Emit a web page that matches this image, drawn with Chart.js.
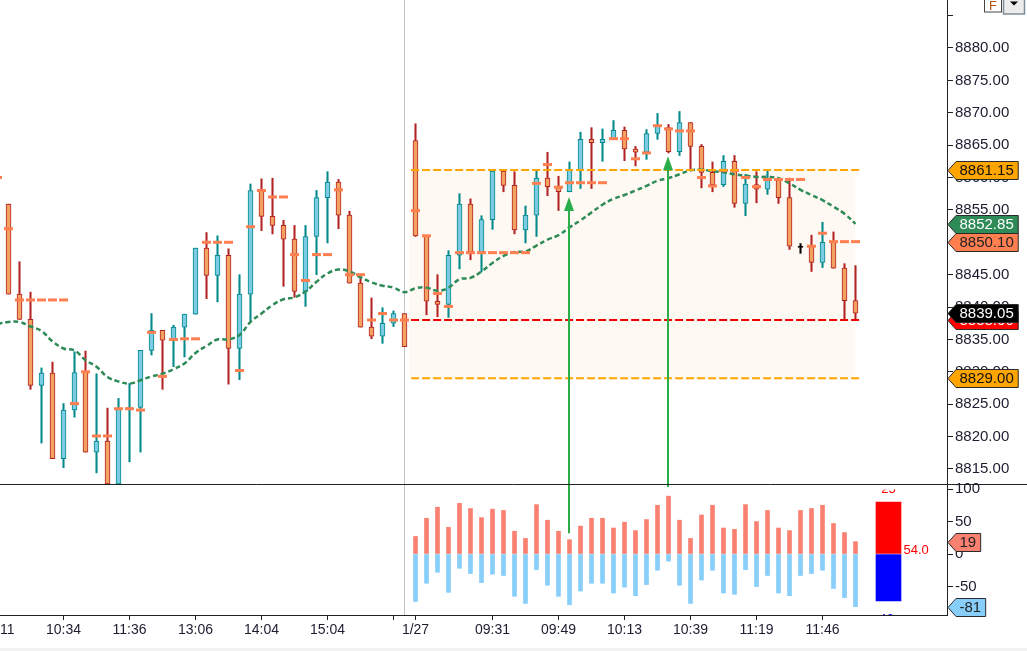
<!DOCTYPE html>
<html><head><meta charset="utf-8">
<script src="https://cdn.jsdelivr.net/npm/chart.js@4/dist/chart.umd.min.js"></script>
<style>html,body{margin:0;padding:0;background:#fff;overflow:hidden}canvas{display:block}</style>
</head><body>
<canvas id="c" width="1027" height="651"></canvas>
<script>
// ---------- data (bar index 0 = first fully visible candle) ----------
const barOpen = [
8855.9, 8842.0, 8838.1, 8827.9, 8829.8, 8816.6, 8824.1, 8830.0, 8817.6, 8819.3,
8812.7, 8824.3, 8824.5, 8833.3, 8836.4, 8835.0, 8836.9, 8838.9, 8849.1, 8844.9,
8848.0, 8833.6, 8842.0, 8858.0, 8854.0, 8852.6, 8850.5, 8842.4, 8850.9, 8856.9,
8859.3, 8854.2, 8843.7, 8836.9, 8835.5, 8837.5, 8839.0, 8865.7, 8851.0, 8840.9,
8840.4, 8848.0, 8855.9, 8848.5, 8853.5, 8861.0, 8858.8, 8851.9, 8854.2, 8859.9,
8858.6, 8857.8, 8861.2, 8865.9, 8865.4, 8866.0, 8867.3, 8864.4, 8863.9, 8866.8,
8867.7, 8864.0, 8868.5, 8864.8, 8860.8, 8858.9, 8862.5, 8856.0, 8858.9, 8858.2,
8859.6, 8856.9, 8849.3, 8849.4, 8846.9, 8850.1, 8846.0, 8841.0];
const barHigh = [
8855.9, 8847.0, 8842.3, 8830.6, 8831.5, 8825.1, 8833.1, 8833.2, 8829.7, 8824.4,
8825.9, 8828.2, 8833.3, 8839.0, 8836.4, 8837.2, 8838.9, 8849.1, 8851.5, 8851.0,
8849.0, 8845.0, 8859.0, 8859.8, 8859.9, 8853.4, 8852.6, 8852.6, 8858.0, 8860.9,
8859.7, 8854.8, 8845.0, 8841.4, 8839.9, 8839.4, 8839.0, 8868.3, 8851.0, 8845.0,
8848.7, 8857.5, 8856.7, 8854.1, 8861.0, 8861.0, 8860.9, 8855.6, 8861.0, 8863.9,
8860.2, 8862.4, 8867.0, 8867.7, 8867.5, 8868.8, 8867.8, 8864.8, 8867.4, 8869.9,
8868.2, 8870.2, 8868.5, 8865.1, 8862.4, 8863.4, 8863.4, 8860.5, 8860.9, 8861.0,
8859.6, 8859.9, 8849.8, 8851.1, 8853.1, 8851.6, 8846.7, 8846.4];
const barLow = [
8842.0, 8838.1, 8827.3, 8819.0, 8816.6, 8815.2, 8823.0, 8817.6, 8814.4, 8812.7,
8812.7, 8816.1, 8817.6, 8832.6, 8827.3, 8830.8, 8832.3, 8838.9, 8841.3, 8840.8,
8828.1, 8828.8, 8837.9, 8851.8, 8851.3, 8843.2, 8841.5, 8840.1, 8845.0, 8849.9,
8852.1, 8843.7, 8836.9, 8835.1, 8834.4, 8837.0, 8833.9, 8850.9, 8838.8, 8838.5,
8838.4, 8845.9, 8847.3, 8845.4, 8852.0, 8857.8, 8851.3, 8849.9, 8850.9, 8857.2,
8854.9, 8857.8, 8858.3, 8858.3, 8862.5, 8866.0, 8862.6, 8861.8, 8862.8, 8865.9,
8863.8, 8863.4, 8861.2, 8858.4, 8857.8, 8858.6, 8855.4, 8854.1, 8856.1, 8857.4,
8856.0, 8848.9, 8848.3, 8845.5, 8846.1, 8846.0, 8838.0, 8838.0];
const barClose = [
8842.0, 8838.1, 8827.9, 8829.8, 8816.6, 8824.1, 8829.9, 8817.6, 8819.3, 8812.7,
8824.4, 8824.5, 8833.3, 8836.4, 8834.9, 8836.9, 8838.9, 8849.1, 8844.9, 8848.0,
8833.6, 8842.0, 8858.0, 8854.0, 8852.6, 8850.5, 8842.4, 8850.9, 8856.9, 8859.3,
8854.2, 8843.7, 8836.9, 8835.5, 8837.5, 8839.0, 8833.9, 8851.0, 8840.9, 8840.4,
8848.0, 8855.9, 8848.5, 8853.5, 8861.0, 8858.8, 8851.9, 8854.2, 8859.9, 8858.6,
8857.8, 8861.2, 8865.9, 8865.4, 8865.9, 8867.3, 8864.4, 8863.9, 8866.8, 8867.9,
8864.0, 8868.5, 8864.8, 8860.8, 8858.9, 8862.5, 8856.0, 8859.0, 8858.2, 8859.6,
8856.9, 8849.4, 8849.3, 8846.9, 8850.0, 8846.0, 8841.0, 8839.05];

// short marker dashes, first entry belongs to bar -1 (partly off-screen)
const dashStart = -1;
const dashLevel = [
8860.0, 8852.1, 8841.1, 8841.1, 8841.1, 8841.1, 8841.1, 8825.1, 8830.0, 8820.1,
8820.1, 8824.3, 8824.3, 8824.1, 8836.1, 8829.3, 8835.0, 8835.1, 8835.1, 8850.0,
8850.0, 8850.0, 8830.2, 8852.4, 8858.0, 8857.0, 8857.0, 8848.1, 8844.1, 8848.1,
8848.1, 8858.1, 8845.0, 8845.0, 8838.0, 8839.0, 8838.0, 8838.0, 8854.9, 8851.0,
8842.1, 8840.1, 8848.4, 8848.4, 8848.4, 8848.4, 8848.4, 8848.4, 8848.4, 8859.1,
8862.0, 8858.5, 8859.2, 8859.2, 8859.2, 8859.2, 8866.0, 8866.0, 8862.9, 8863.8,
8868.0, 8867.5, 8867.2, 8867.2, 8860.0, 8858.7, 8861.1, 8861.1, 8860.0, 8858.6,
8859.7, 8859.7, 8859.7, 8859.7, 8849.4, 8851.4, 8850.1, 8850.1, 8850.1];

// moving average, first entry belongs to bar -1
const maStart = -1;
const maValue = [
8837.4, 8837.7, 8837.7, 8837.0, 8836.3, 8834.7, 8833.6, 8833.3, 8831.8, 8830.8,
8829.2, 8828.5, 8828.2, 8828.7, 8829.3, 8829.7, 8830.4, 8831.3, 8832.9, 8834.0,
8835.0, 8835.0, 8835.7, 8837.7, 8839.0, 8840.3, 8841.2, 8841.5, 8842.4, 8843.9,
8845.2, 8845.8, 8845.5, 8844.6, 8843.8, 8843.3, 8843.0, 8842.3, 8842.9, 8843.0,
8842.5, 8843.0, 8844.3, 8844.5, 8845.5, 8846.8, 8847.9, 8848.5, 8848.6, 8849.5,
8850.4, 8851.1, 8852.3, 8853.4, 8854.6, 8855.8, 8856.7, 8857.3, 8858.0, 8858.7,
8859.5, 8859.9, 8860.5, 8861.1, 8861.2, 8861.0, 8860.8, 8860.5, 8860.3, 8860.1,
8860.1, 8859.9, 8859.1, 8858.1, 8857.3, 8856.5, 8855.5, 8854.4, 8852.85];

// lower panel oscillator (today's session only)
const indStart = 37;
const indUp = [27,55,72,41,78,70,56,69,67,35,24,76,52,35,22,43,55,55,40,49,36,53,75,89,52,24,60,75,40,38,76,50,67,40,36,67,70,75,47,33,19];
const indDown = [-73,-45,-28,-59,-22,-30,-44,-31,-33,-65,-76,-24,-48,-65,-78,-57,-45,-45,-60,-51,-64,-47,-25,-11,-48,-76,-40,-25,-60,-62,-24,-50,-33,-60,-64,-33,-30,-25,-53,-67,-81];
const sumBar = 80, sumUp = 80, sumDown = -72;
const sumText = '54.0', sumUpText = '25', sumDownText = '46';

// levels
const upperBand = 8861.15, lowerBand = 8829.00, refLevel = 8838.00;
const lastPrice = 8839.05, maLast = 8852.85, dashLast = 8850.10;
const indLastUp = 19, indLastDown = -81;
const levelFrom = 36.6, levelTo = 77.4, zoneFrom = 36.4, zoneTo = 77.0;
const sessionBar = 36;
const arrowBars = [51, 60];
const arrowTop = [8857.0, 8863.3];
const arrowBottom = [32, 103];

// axes
const xTickBars = [-1, 5, 11, 17, 23, 29, 35, 37, 44, 50, 56, 62, 68, 74];
const xTickLabels = ['10:11', '10:34', '11:36', '13:06', '14:04', '15:04', '', '1/27', '09:31', '09:49', '10:13', '10:39', '11:19', '11:46'];
const priceTicks = [8815, 8820, 8825, 8830, 8835, 8840, 8845, 8850, 8855, 8860, 8865, 8870, 8875, 8880, 8885];
const priceLabelMax = 8880;
const indTicks = [-50, 0, 50, 100];

// ---------- styles ----------
const UP_FILL = '#7DCBE2', UP_EDGE = '#00898B';
const DN_FILL = '#F4A261', DN_EDGE = '#B22222';
const FONT = '"Liberation Sans", Arial, sans-serif';
const TXT = '#1c1c30';

const idx = barOpen.map((_, i) => i);
const dir = idx.map(i => barClose[i] > barOpen[i] ? 1 : (barClose[i] < barOpen[i] ? -1 : 0));
const bodyFill = dir.map(d => d > 0 ? UP_FILL : (d < 0 ? DN_FILL : '#000'));
const edgeCol = dir.map(d => d > 0 ? UP_EDGE : (d < 0 ? DN_EDGE : '#000'));

function tag(ctx, x, y, text, bg, fg) {
  ctx.font = '15px ' + FONT;
  const w = ctx.measureText(text).width + 8, h = 18, a = 8;
  y = Math.round(y) + 0.5;
  ctx.beginPath();
  ctx.moveTo(x, y);
  ctx.lineTo(x + a, y - h / 2);
  ctx.lineTo(x + a + w, y - h / 2);
  ctx.lineTo(x + a + w, y + h / 2);
  ctx.lineTo(x + a, y + h / 2);
  ctx.closePath();
  ctx.fillStyle = bg; ctx.fill();
  ctx.strokeStyle = '#2a2a2a'; ctx.lineWidth = 1; ctx.stroke();
  ctx.fillStyle = fg; ctx.textBaseline = 'middle'; ctx.textAlign = 'left';
  ctx.fillText(text, x + a + 3.5, y + 0.5);
}

const overlay = {
  id: 'overlay',
  beforeDatasetsDraw(chart) {
    const {ctx, scales: {x, y, y2}} = chart;
    const sx = x.getPixelForValue(sessionBar);
    ctx.save();
    ctx.strokeStyle = '#C2C2C2'; ctx.lineWidth = 1;
    ctx.beginPath(); ctx.moveTo(sx, y.top); ctx.lineTo(sx, y2.bottom); ctx.stroke();
    ctx.restore();
  },
  afterDatasetsDraw(chart) {
    const {ctx, scales: {x, y, y2}} = chart;
    ctx.save();
    arrowBars.forEach((b, k) => {
      const ax = x.getPixelForValue(b) - 0.5;
      const tip = y.getPixelForValue(arrowTop[k]);
      const end = y2.getPixelForValue(arrowBottom[k]);
      ctx.strokeStyle = '#2BAE4A'; ctx.fillStyle = '#2BAE4A'; ctx.lineWidth = 2;
      ctx.beginPath(); ctx.moveTo(ax, tip + 10); ctx.lineTo(ax, end); ctx.stroke();
      ctx.beginPath(); ctx.moveTo(ax, tip); ctx.lineTo(ax - 5, tip + 14); ctx.lineTo(ax + 5, tip + 14); ctx.closePath(); ctx.fill();
    });
    // summary box texts (clipped to the inner lower panel)
    ctx.save();
    ctx.beginPath(); ctx.rect(chart.chartArea.left, y2.top + 5.5, chart.chartArea.right - chart.chartArea.left, y2.bottom - y2.top - 5.5); ctx.clip();
    const bx = x.getPixelForValue(sumBar);
    ctx.font = '13px ' + FONT; ctx.textBaseline = 'middle';
    ctx.fillStyle = '#FF0000'; ctx.textAlign = 'left';
    ctx.fillText(sumText, bx + 15, y2.getPixelForValue(5.7));
    ctx.textAlign = 'center';
    ctx.fillText(sumUpText, bx, y2.getPixelForValue(99));
    ctx.fillStyle = '#0000FF';
    ctx.fillText(sumDownText, bx - 2, y2.getPixelForValue(-100.5));
    ctx.restore();
    ctx.restore();
  },
  afterDraw(chart) {
    const {ctx, scales: {y, y2}} = chart;
    ctx.save();
    // panel separator across full width
    ctx.strokeStyle = '#222'; ctx.lineWidth = 1;
    const sy = Math.floor(y.bottom) + 0.5;
    ctx.beginPath(); ctx.moveTo(0, sy); ctx.lineTo(chart.width, sy); ctx.stroke();
    const tx = y.left + 1;
    tag(ctx, tx, y.getPixelForValue(upperBand), upperBand.toFixed(2), '#FFA500', '#111');
    tag(ctx, tx, y.getPixelForValue(maLast), maLast.toFixed(2), '#2E8B57', '#fff');
    tag(ctx, tx, y.getPixelForValue(dashLast), dashLast.toFixed(2), '#FF7F50', '#222');
    tag(ctx, tx, y.getPixelForValue(refLevel), refLevel.toFixed(2), '#FF0000', '#fff');
    tag(ctx, tx, y.getPixelForValue(lastPrice), lastPrice.toFixed(2), '#000000', '#fff');
    tag(ctx, tx, y.getPixelForValue(lowerBand), lowerBand.toFixed(2), '#FFA500', '#111');
    tag(ctx, tx, y2.getPixelForValue(indLastUp), String(indLastUp), '#FA8072', '#222');
    tag(ctx, tx, y2.getPixelForValue(indLastDown), String(indLastDown), '#87CEFA', '#222');
    // top-right widgets
    ctx.fillStyle = '#fff'; ctx.fillRect(984.5, -1, 17, 13);
    ctx.strokeStyle = '#444'; ctx.lineWidth = 1; ctx.strokeRect(984.5, -1, 17, 13);
    ctx.fillStyle = '#B0561A'; ctx.font = '13px ' + FONT; ctx.textAlign = 'center'; ctx.textBaseline = 'alphabetic';
    ctx.fillText('F', 993, 10);
    ctx.fillStyle = '#ECECEC'; ctx.fillRect(1003.5, -1, 21, 15);
    ctx.strokeStyle = '#7F8C99'; ctx.lineWidth = 1.5; ctx.strokeRect(1003.5, -1, 21, 15);
    ctx.fillStyle = '#000';
    ctx.beginPath(); ctx.moveTo(1010, 1.5); ctx.lineTo(1018, 1.5); ctx.lineTo(1014, 5.5); ctx.closePath(); ctx.fill();
    ctx.fillStyle = '#F2F2F2'; ctx.fillRect(0, 648, chart.width, 3);
    ctx.restore();
  }
};

const datasets = [
  { type: 'line', yAxisID: 'y', order: 30,
    data: [{x: zoneFrom, y: upperBand}, {x: zoneTo, y: upperBand}],
    borderWidth: 0, pointRadius: 0, fill: {value: lowerBand}, backgroundColor: 'rgba(255,170,80,0.07)' },
  { type: 'bar', yAxisID: 'y', order: 6, grouped: false,
    data: idx.map(i => ({x: i, y: [barLow[i], barHigh[i]]})),
    backgroundColor: edgeCol, barThickness: 1.4, borderWidth: 0 },
  { type: 'bar', yAxisID: 'y', order: 5, grouped: false,
    data: idx.map(i => ({x: i, y: dir[i] === 0 ? [barOpen[i] - 0.08, barOpen[i] + 0.08] : [barOpen[i], barClose[i]]})),
    backgroundColor: bodyFill, borderColor: edgeCol, borderWidth: 1, borderSkipped: false, barThickness: 5 },
  { type: 'line', yAxisID: 'y', order: 3,
    data: maValue.map((v, k) => ({x: maStart + k, y: v})),
    borderColor: '#2E8B57', borderWidth: 2.5, borderDash: [5, 3], tension: 0.4, pointRadius: 0, fill: false },
  { type: 'line', yAxisID: 'y', order: 2, showLine: false,
    data: dashLevel.map((v, k) => ({x: dashStart + k, y: v})).filter(p => p.y !== null),
    pointStyle: 'line', pointRadius: 4.5, pointBorderWidth: 3, pointBorderColor: '#FF7F50', pointBackgroundColor: '#FF7F50' },
  { type: 'line', yAxisID: 'y', order: 1,
    data: [{x: levelFrom, y: upperBand}, {x: levelTo, y: upperBand}],
    borderColor: '#FFA500', borderWidth: 2, borderDash: [8, 3], pointRadius: 0, fill: false },
  { type: 'line', yAxisID: 'y', order: 1,
    data: [{x: levelFrom, y: lowerBand}, {x: levelTo, y: lowerBand}],
    borderColor: '#FFA500', borderWidth: 2, borderDash: [8, 3], pointRadius: 0, fill: false },
  { type: 'line', yAxisID: 'y', order: 1,
    data: [{x: levelFrom, y: refLevel}, {x: levelTo, y: refLevel}],
    borderColor: '#EE0000', borderWidth: 2, borderDash: [8, 3], pointRadius: 0, fill: false },
  { type: 'bar', yAxisID: 'y2', order: 4, grouped: false,
    data: indUp.map((v, k) => ({x: indStart + k, y: v})), backgroundColor: '#FA8072', barThickness: 4 },
  { type: 'bar', yAxisID: 'y2', order: 4, grouped: false,
    data: indDown.map((v, k) => ({x: indStart + k, y: v})), backgroundColor: '#87CEFA', barThickness: 4 },
  { type: 'bar', yAxisID: 'y2', order: 4, grouped: false,
    data: [{x: sumBar, y: [0, sumUp]}], backgroundColor: '#FF0000', barThickness: 25 },
  { type: 'bar', yAxisID: 'y2', order: 4, grouped: false,
    data: [{x: sumBar, y: [sumDown, 0]}], backgroundColor: '#0000FF', barThickness: 25 }
];

const PX0 = 8.5, SLOT = 11, AREA_W = 947;
Chart.defaults.font.family = FONT;
new Chart(document.getElementById('c'), {
  type: 'bar',
  data: { datasets },
  plugins: [overlay],
  options: {
    responsive: false, animation: false, devicePixelRatio: 1,
    layout: { padding: 0, autoPadding: false },
    plugins: { legend: { display: false }, tooltip: { enabled: false } },
    scales: {
      x: {
        type: 'linear', position: 'bottom', offset: false,
        min: -PX0 / SLOT, max: (AREA_W - PX0) / SLOT,
        grid: { offset: false, drawOnChartArea: false, drawTicks: true, tickLength: 5, color: '#222' },
        border: { color: '#222', width: 1 },
        ticks: { autoSkip: false, maxRotation: 0, minRotation: 0, padding: 2, color: TXT, font: { size: 14 },
          callback: v => { const k = xTickBars.indexOf(v); return k >= 0 ? xTickLabels[k] : ''; } },
        afterBuildTicks: s => { s.ticks = xTickBars.map(v => ({value: v})); },
        afterFit: s => { s.height = 36; s.paddingLeft = 0; s.paddingRight = 0; }
      },
      y: {
        type: 'linear', position: 'right', stack: 'panes', stackWeight: 484, weight: 1,
        min: 8812.68, max: 8887.41,
        grid: { drawOnChartArea: false, drawTicks: true, tickLength: 6, color: '#222' },
        border: { color: '#222', width: 1 },
        ticks: { autoSkip: false, padding: 2, color: TXT, font: { size: 15 },
          callback: v => v > priceLabelMax ? '' : v.toFixed(2) },
        afterBuildTicks: s => { s.ticks = priceTicks.map(v => ({value: v})); },
        afterFit: s => { s.width = 80; s.paddingTop = 0; s.paddingBottom = 0; }
      },
      y2: {
        type: 'linear', position: 'right', stack: 'panes', stackWeight: 131, weight: 2,
        min: -93.8, max: 107.7,
        grid: { drawOnChartArea: false, drawTicks: true, tickLength: 6, color: '#222' },
        border: { color: '#222', width: 1 },
        ticks: { autoSkip: false, padding: 2, color: TXT, font: { size: 15 }, callback: v => String(v) },
        afterBuildTicks: s => { s.ticks = indTicks.map(v => ({value: v})); },
        afterFit: s => { s.width = 80; s.paddingTop = 0; s.paddingBottom = 0; }
      }
    }
  }
});
</script>
</body></html>
